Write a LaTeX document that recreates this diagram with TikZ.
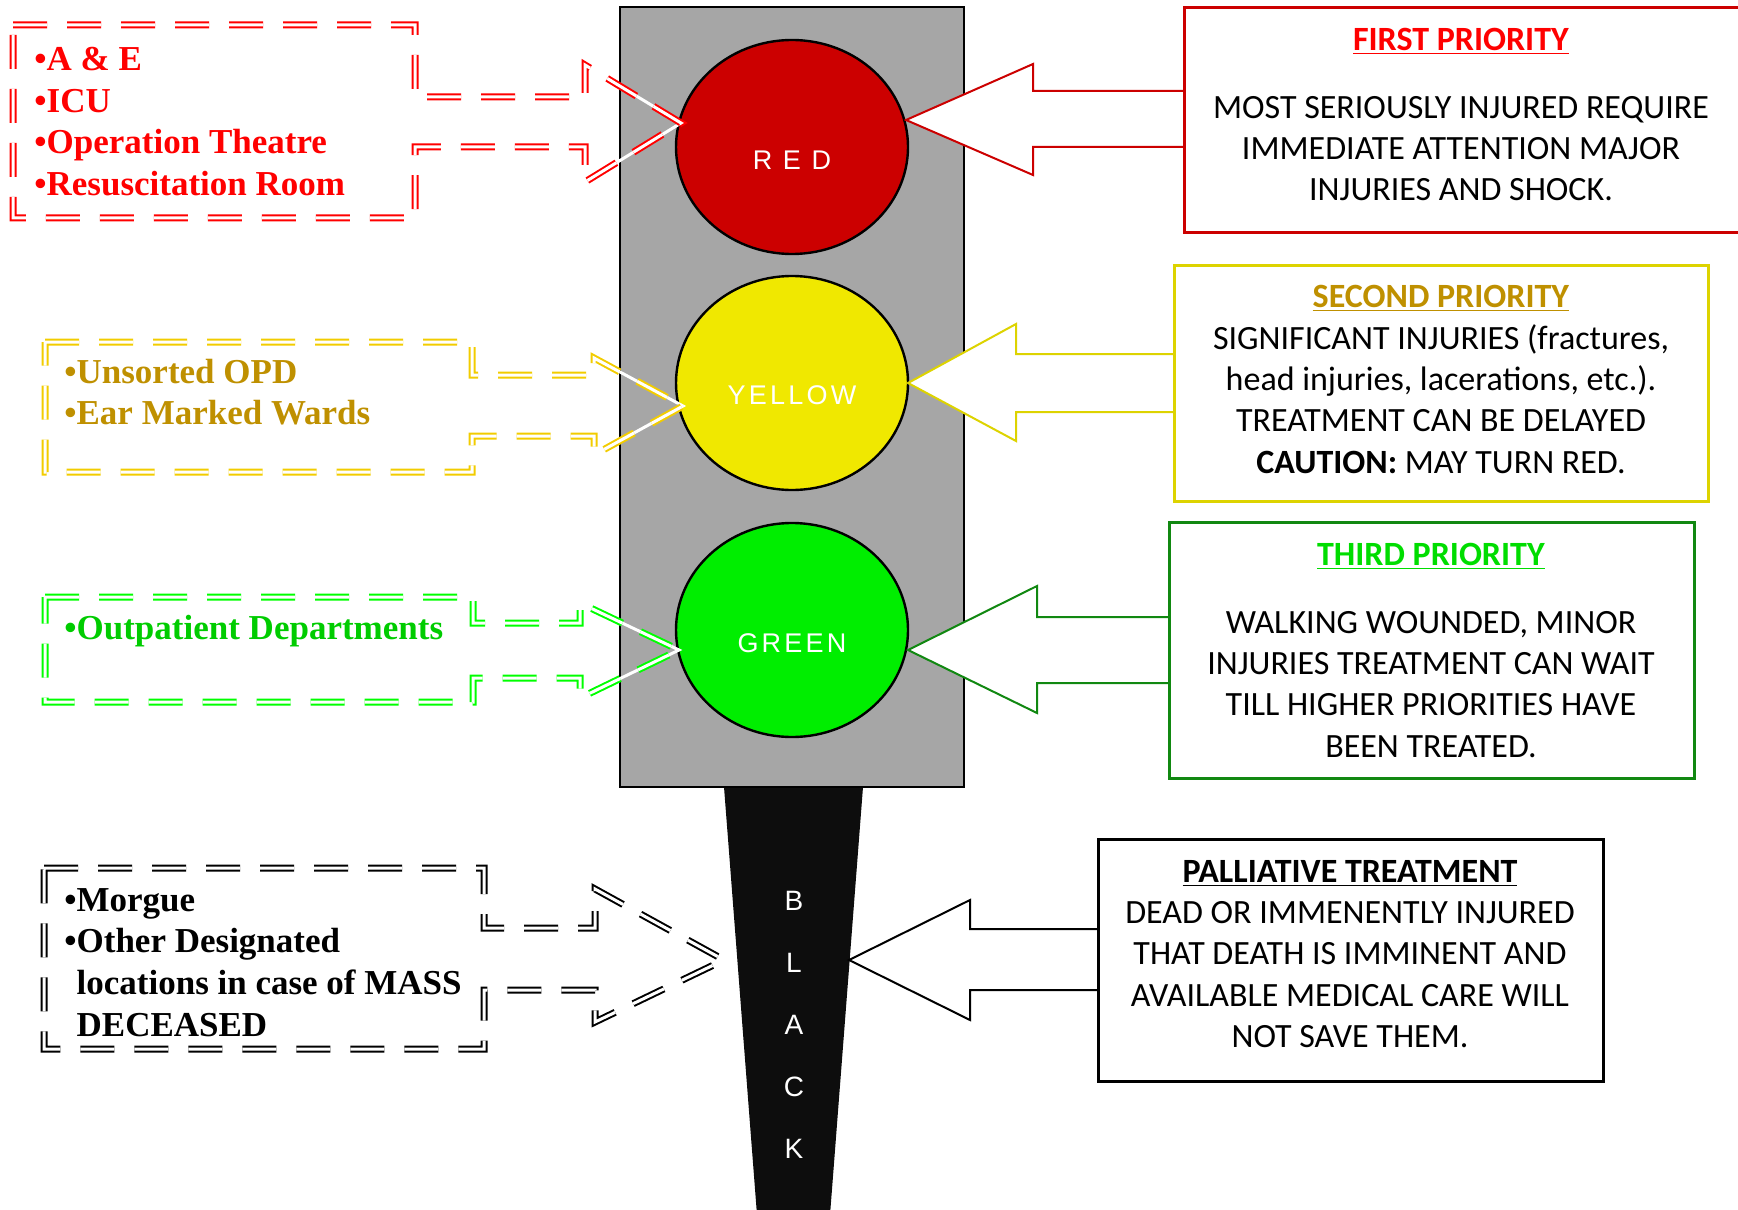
\documentclass[tikz,border=0pt]{standalone}
\usepackage{fontspec}
\setmainfont{Carlito}
\newfontfamily\wardfont{Liberation Serif}
\newfontfamily\lampfont{Liberation Sans}[LetterSpace=12]
\usetikzlibrary{shapes.geometric}

\definecolor{housegray}{HTML}{A6A6A6}
\definecolor{redlamp}{HTML}{CC0000}
\definecolor{yellowlamp}{HTML}{F0E800}
\definecolor{greenlamp}{HTML}{00EE00}
\definecolor{polecol}{HTML}{0D0D0D}
\definecolor{reddash}{HTML}{FF0000}
\definecolor{yellowdash}{HTML}{F2CC00}
\definecolor{yellowtext}{HTML}{BF9000}
\definecolor{greendash}{HTML}{00FF00}
\definecolor{greentext}{HTML}{00CC00}
\definecolor{redline}{HTML}{CC0000}
\definecolor{yellowline}{HTML}{DDD300}
\definecolor{greenline}{HTML}{118811}
\definecolor{greentitle}{HTML}{00DD00}

\begin{document}
\begin{tikzpicture}[x=0.5pt,y=-0.5pt,
  lamp/.style={ellipse, draw=black, line width=1.2pt, minimum width=116pt, minimum height=107pt, inner sep=0pt},
  lamp text/.style={text=white, inner sep=0pt, font=\lampfont\fontsize{13.5}{16}\selectfont},
  dashbox/.style={preaction={draw=white, solid, line width=1.5pt}, double=white, double distance=1.5pt,
    line width=1pt, dash pattern=on 17pt off 10pt, line join=miter},
  prio box/.style={draw, fill=white, line width=1.5pt, inner sep=0pt},
  prio arrow/.style={fill=white, line width=1pt, line join=miter},
  prio text/.style={align=center, inner sep=0pt, font=\fontsize{17}{20.7}\selectfont},
  ward text/.style={align=left, anchor=west, inner sep=0pt, font=\wardfont\bfseries\fontsize{17.5}{20.85}\selectfont},
]
\useasboundingbox (0,0) rectangle (1738,1209);

%-------------- traffic light --------------------
\fill[polecol] (724,787) -- (863,787) -- (830,1215) -- (757,1215) -- cycle;
\draw[fill=housegray, line width=1.2pt] (620,7) rectangle (964,787);

\node[lamp, fill=redlamp] (L1) at (792,147) {};
\node[lamp, fill=yellowlamp] (L2) at (792,383) {};
\node[lamp, fill=greenlamp] (L3) at (792,630) {};

\node[lamp text] (L1t) at (792,160) {R E D};
\node[lamp text] (L2t) at (792,395) {YELLOW};
\node[lamp text] (L3t) at (792,643) {GREEN};

\node[lamp text, font=\lampfont\fontsize{14}{16}\selectfont] (K1) at (794,901) {B};
\node[lamp text, font=\lampfont\fontsize{14}{16}\selectfont] (K2) at (794,963) {L};
\node[lamp text, font=\lampfont\fontsize{14}{16}\selectfont] (K3) at (794,1025) {A};
\node[lamp text, font=\lampfont\fontsize{14}{16}\selectfont] (K4) at (794,1087) {C};
\node[lamp text, font=\lampfont\fontsize{14}{16}\selectfont] (K5) at (794,1149) {K};

%-------------- RED wards --------------------
\draw[dashbox, reddash] (13,25) -- (415,25) -- (415,97) -- (585,97) -- (585,65) -- (681,123)
  -- (585,182) -- (585,147) -- (415,147) -- (415,218) -- (13,218) -- cycle;
\node[ward text, text=reddash] (W1) at (34,121.5)
  {•A \& E\\•ICU\\•Operation Theatre\\•Resuscitation Room};

%-------------- YELLOW wards --------------------
\draw[dashbox, yellowdash] (45,342) -- (472,342) -- (472,375) -- (594,375) -- (594,358) -- (683,406)
  -- (594,455) -- (594,436) -- (472,436) -- (472,472) -- (45,472) -- cycle;
\node[ward text, text=yellowtext] (W2) at (64,392)
  {•Unsorted OPD\\•Ear Marked Wards};

%-------------- GREEN wards --------------------
\draw[dashbox, greendash] (45,597) -- (473,597) -- (473,623) -- (580,623) -- (580,603) -- (679,650)
  -- (580,698) -- (580,678) -- (473,678) -- (473,702) -- (45,702) -- cycle;
\node[ward text, text=greentext, anchor=base west] (W3) at (64,639.5)
  {•Outpatient Departments};

%-------------- BLACK wards --------------------
\draw[dashbox, black] (44,868) -- (484,868) -- (484,928) -- (595,928) -- (595,889) -- (724,960)
  -- (595,1022) -- (595,990) -- (484,990) -- (484,1049) -- (44,1049) -- cycle;
\node[ward text, text=black] (W4) at (64,962.5)
  {•Morgue\\•Other Designated\\\phantom{•}locations in case of MASS\\\phantom{•}DECEASED};

%-------------- FIRST PRIORITY --------------------
\draw[prio arrow, draw=redline] (1184,91) -- (1033,91) -- (1033,64) -- (906,120)
  -- (1033,175) -- (1033,147) -- (1184,147);
\node[prio box, draw=redline, minimum width=280.5pt, minimum height=112.5pt] (P1) at (1464.5,120.5) {};
\node[prio text] (T1) at (1461,114.75)
  {\textcolor{reddash}{\underline{\textbf{FIRST PRIORITY}}}\\[13pt]
   MOST SERIOUSLY INJURED REQUIRE\\IMMEDIATE ATTENTION MAJOR\\INJURIES AND SHOCK.};

%-------------- SECOND PRIORITY --------------------
\draw[prio arrow, draw=yellowline] (1174,354) -- (1016,354) -- (1016,324) -- (908,383)
  -- (1016,441) -- (1016,412) -- (1174,412);
\node[prio box, draw=yellowline, minimum width=267pt, minimum height=118pt] (P2) at (1441,383) {};
\node[prio text] (T2) at (1441,379.5)
  {\textcolor{yellowtext}{\underline{\textbf{SECOND PRIORITY}}}\\
   SIGNIFICANT INJURIES (fractures,\\head injuries, lacerations, etc.).\\
   TREATMENT CAN BE DELAYED\\\textbf{CAUTION:} MAY TURN RED.};

%-------------- THIRD PRIORITY --------------------
\draw[prio arrow, draw=greenline] (1169,617) -- (1037,617) -- (1037,586) -- (908,650)
  -- (1037,713) -- (1037,683) -- (1169,683);
\node[prio box, draw=greenline, minimum width=262.5pt, minimum height=128pt] (P3) at (1431.5,650) {};
\node[prio text] (T3) at (1431,650.5)
  {\textcolor{greentitle}{\underline{\textbf{THIRD PRIORITY}}}\\[13pt]
   WALKING WOUNDED, MINOR\\INJURIES TREATMENT CAN WAIT\\
   TILL HIGHER PRIORITIES HAVE\\BEEN TREATED.};

%-------------- PALLIATIVE --------------------
\draw[prio arrow, draw=black] (1098,929) -- (970,929) -- (970,900) -- (849,960)
  -- (970,1020) -- (970,990) -- (1098,990);
\node[prio box, draw=black, minimum width=252.5pt, minimum height=121pt] (P4) at (1350.5,960) {};
\node[prio text] (T4) at (1350,954)
  {\underline{\textbf{PALLIATIVE TREATMENT}}\\
   DEAD OR IMMENENTLY INJURED\\THAT DEATH IS IMMINENT AND\\
   AVAILABLE MEDICAL CARE WILL\\NOT SAVE THEM.};

\end{tikzpicture}
\end{document}
